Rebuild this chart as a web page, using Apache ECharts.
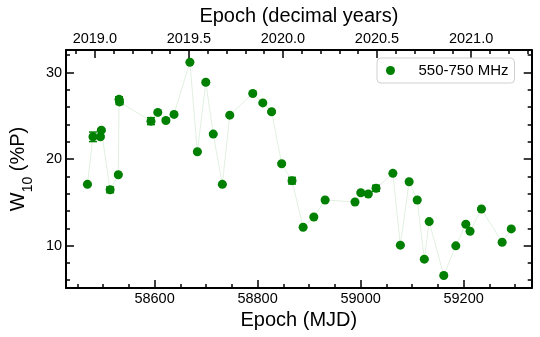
<!DOCTYPE html>
<html>
<head>
<meta charset="utf-8">
<script src="https://cdn.jsdelivr.net/npm/echarts@6/dist/echarts.min.js"></script>
<style>
html, body { margin: 0; padding: 0; background: #fff; }
#main { width: 540px; height: 337px; }
</style>
</head>
<body>
<div id="main"></div>
<script>
// epochs (MJD), W10 widths (% of period) and their errors
var mjd = [58469.7, 58480.4, 58494.8, 58496.7, 58513.7, 58529.6, 58531.0, 58532.0, 58593.0, 58606.3,
	58622.0, 58637.8, 58668.6, 58683.1, 58699.5, 58713.9, 58731.6, 58746.0, 58790.7, 58810.2,
	58827.2, 58846.8, 58866.9, 58888.4, 58909.2, 58931.1, 58989.1, 59000.4, 59014.9, 59030.0,
	59062.7, 59077.2, 59094.2, 59109.9, 59123.7, 59133.1, 59161.5, 59184.9, 59204.3, 59212.5,
	59234.6, 59274.8, 59292.5];
var w10 = [17.08, 22.57, 22.57, 23.34, 16.45, 18.19, 26.9, 26.6, 24.38, 25.39,
	24.46, 25.16, 31.19, 20.84, 28.88, 22.88, 17.08, 25.07, 27.58, 26.49,
	25.46, 19.46, 17.5, 12.12, 13.31, 15.27, 15.04, 16.11, 15.96, 16.62,
	18.35, 10.05, 17.38, 15.27, 8.43, 12.77, 6.54, 9.97, 12.47, 11.66,
	14.23, 10.39, 11.93];
var w10Err = [0.1, 0.55, 0.15, 0.15, 0.33, 0.1, 0.3, 0.3, 0.4, 0.1,
	0.15, 0.1, 0.1, 0.1, 0.15, 0.1, 0.1, 0.1, 0.1, 0.1,
	0.1, 0.1, 0.38, 0.1, 0.1, 0.1, 0.1, 0.1, 0.1, 0.35,
	0.1, 0.1, 0.1, 0.1, 0.1, 0.1, 0.1, 0.1, 0.1, 0.1,
	0.1, 0.1, 0.1];
var seriesName = '550-750 MHz';

var mjdMin = 58428.1, mjdMax = 59332.2;
// decimal year axis tied to MJD (2019.0 = MJD 58484)
function toYear(m) { return 2019 + (m - 58484) / 365.25; }

var points = [], errs = [];
for (var i = 0; i < mjd.length; i++) {
	points.push([mjd[i], w10[i]]);
	errs.push([mjd[i], w10[i], w10Err[i]]);
}

var font = 'Liberation Sans, Arial, Helvetica, sans-serif';
var green = '#008000';
var tickFs = 14.5, nameFs = 20;

function axisBase() {
	return {
		axisLine : { show : true, onZero : false, lineStyle : { color : '#000', width : 2 } },
		axisTick : { show : true, inside : true, length : 8, lineStyle : { color : '#000', width : 1.5 } },
		splitLine : { show : false },
		minorSplitLine : { show : false }
	};
}
function minor(n) {
	return { show : true, splitNumber : n, length : 4, lineStyle : { color : '#000', width : 1.5 } };
}
function mk(base, extra) {
	for (var k in extra) base[k] = extra[k];
	return base;
}

var myChart = echarts.init(document.getElementById('main'), null, { renderer : 'canvas' });
myChart.setOption({
	animation : false,
	backgroundColor : '#fff',
	textStyle : { fontFamily : font },
	grid : { left : 53, right : 8.3, top : 50, bottom : 49, containLabel : false },
	legend : {
		data : [ { name : seriesName, icon : 'circle' } ],
		left : 377, top : 58,
		itemWidth : 26, itemHeight : 9,
		padding : [ 5, 6, 5, 9 ],
		borderColor : '#d0d0d0', borderWidth : 1, borderRadius : 4,
		textStyle : { fontFamily : font, fontSize : 15, color : '#000', padding : [ 0, 0, 0, 10 ] }
	},
	xAxis : [
		mk(axisBase(), {
			type : 'value', position : 'bottom',
			min : mjdMin, max : mjdMax, splitNumber : 5,
			minorTick : minor(4),
			axisLabel : {
				margin : 3, fontSize : tickFs, color : '#000', fontFamily : font,
				showMinLabel : false, showMaxLabel : false,
				formatter : function(v) { return Math.abs(v / 200 - Math.round(v / 200)) < 1e-6 ? String(v) : ''; }
			},
			name : 'Epoch (MJD)', nameLocation : 'middle', nameGap : 20,
			nameTextStyle : { fontSize : nameFs, color : '#000', fontFamily : font }
		}),
		mk(axisBase(), {
			type : 'value', position : 'top',
			min : toYear(mjdMin), max : toYear(mjdMax), splitNumber : 5,
			minorTick : minor(5),
			axisLabel : {
				margin : 3.5, fontSize : tickFs, color : '#000', fontFamily : font,
				showMinLabel : false, showMaxLabel : false,
				formatter : function(v) { return Math.abs(v * 2 - Math.round(v * 2)) < 1e-6 ? v.toFixed(1) : ''; }
			},
			name : 'Epoch (decimal years)', nameLocation : 'middle', nameGap : 24,
			nameTextStyle : { fontSize : nameFs, color : '#000', fontFamily : font }
		})
	],
	yAxis : [
		mk(axisBase(), {
			type : 'value', position : 'left',
			min : 5.1, max : 32.6, splitNumber : 3,
			minorTick : minor(5),
			axisLabel : {
				margin : 4, fontSize : tickFs, color : '#000', fontFamily : font,
				showMinLabel : false, showMaxLabel : false
			},
			name : 'W{s|10} (%P)', nameLocation : 'middle', nameGap : 27,
			nameTextStyle : {
				fontSize : nameFs, color : '#000', fontFamily : font,
				rich : { s : { fontSize : 14, verticalAlign : 'bottom', padding : [ 0, 0, -7, 0 ], fontFamily : font, color : '#000' } }
			}
		}),
		mk(axisBase(), {
			type : 'value', position : 'right',
			min : 5.1, max : 32.6, splitNumber : 3,
			minorTick : minor(5),
			axisLabel : { show : false }
		})
	],
	series : [
		{
			type : 'custom',
			xAxisIndex : 0, yAxisIndex : 0,
			z : 1,
			silent : true,
			data : errs,
			renderItem : function(params, api) {
				var x = api.value(0), y = api.value(1), e = api.value(2);
				var a = api.coord([ x, y + e ]), b = api.coord([ x, y - e ]);
				var hw = 4, st = { stroke : green, lineWidth : 1.5 };
				return {
					type : 'group',
					children : [
						{ type : 'line', shape : { x1 : a[0], y1 : a[1], x2 : b[0], y2 : b[1] }, style : st },
						{ type : 'line', shape : { x1 : a[0] - hw, y1 : a[1], x2 : a[0] + hw, y2 : a[1] }, style : st },
						{ type : 'line', shape : { x1 : b[0] - hw, y1 : b[1], x2 : b[0] + hw, y2 : b[1] }, style : st }
					]
				};
			}
		},
		{
			name : seriesName,
			type : 'line',
			xAxisIndex : 0, yAxisIndex : 0,
			z : 2,
			data : points,
			symbol : 'circle',
			symbolSize : 9,
			showAllSymbol : true,
			itemStyle : { color : green },
			lineStyle : { color : 'rgba(0,128,0,0.12)', width : 1 }
		}
	]
});
</script>
</body>
</html>
